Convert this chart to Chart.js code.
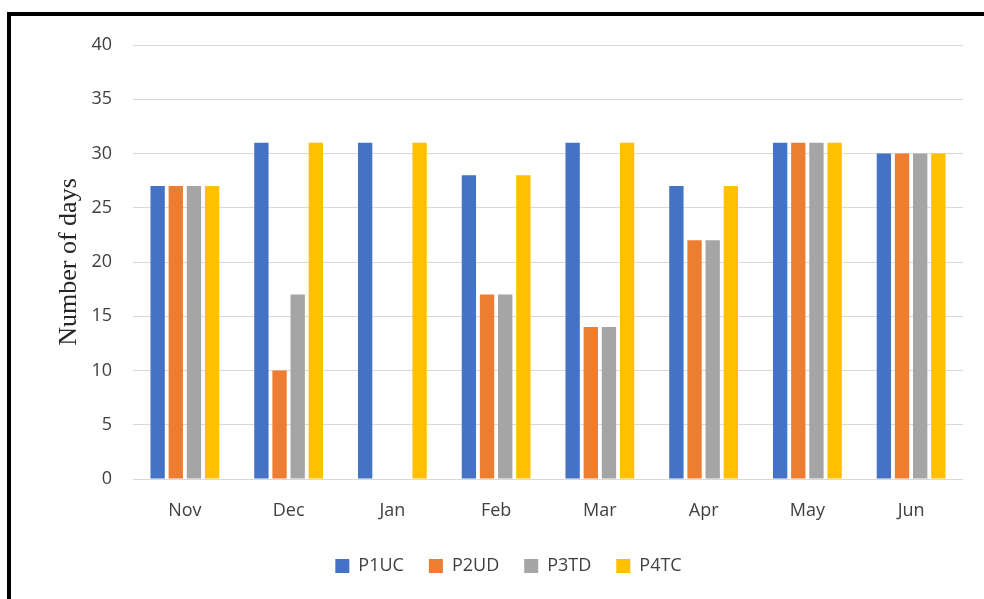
<!DOCTYPE html>
<html>
<head>
<meta charset="utf-8">
<script src="https://cdn.jsdelivr.net/npm/chart.js@4"></script>
<style>
  html, body { margin: 0; padding: 0; background: #fff; overflow: hidden; }
  #wrap { position: relative; width: 984px; height: 599px; }
  #frame {
    position: absolute; left: 7px; top: 12px; width: 1000px; height: 620px;
    border: 4px solid #000; box-sizing: border-box; pointer-events: none;
  }
  canvas { position: absolute; left: 0; top: 0; }
</style>
</head>
<body>
<div id="wrap">
  <canvas id="daysChart" width="984" height="599"></canvas>
  <div id="frame"></div>
</div>
<script>
const months = ["Nov", "Dec", "Jan", "Feb", "Mar", "Apr", "May", "Jun"];
const p1uc = [27, 31, 31, 28, 31, 27, 31, 30];
const p2ud = [27, 10, 0, 17, 14, 22, 31, 30];
const p3td = [27, 17, 0, 17, 14, 22, 31, 30];
const p4tc = [27, 31, 31, 28, 31, 27, 31, 30];

const sans = "'Open Sans', 'DejaVu Sans', sans-serif";

function series(label, data, color) {
    return {
        label: label,
        data: data,
        backgroundColor: color,
        borderWidth: 0,
        categoryPercentage: 0.7,
        barPercentage: 0.79
    };
}

const ctx = document.getElementById("daysChart");

new Chart(ctx, {
    type: "bar",
    data: {
        labels: months,
        datasets: [
            series("P1UC", p1uc, "#4472C4"),
            series("P2UD", p2ud, "#ED7D31"),
            series("P3TD", p3td, "#A5A5A5"),
            series("P4TC", p4tc, "#FFC000")
        ]
    },
    options: {
        responsive: false,
        animation: false,
        layout: { padding: { left: 54, right: 21, top: 45, bottom: 14 } },
        plugins: {
            tooltip: { enabled: false },
            legend: {
                position: "bottom",
                labels: {
                    boxWidth: 14,
                    boxHeight: 14,
                    padding: 25,
                    color: "#404040",
                    font: { family: sans, size: 18 }
                }
            }
        },
        scales: {
            x: {
                grid: { display: false },
                border: { display: false },
                ticks: {
                    color: "#404040",
                    padding: 13,
                    font: { family: sans, size: 18 }
                },
                afterFit(scale) { scale.height = 53; }
            },
            y: {
                min: 0,
                max: 40,
                ticks: {
                    stepSize: 5,
                    color: "#404040",
                    padding: 21,
                    font: { family: sans, size: 18 }
                },
                grid: { color: "#d9d9d9", drawTicks: false },
                border: { display: false },
                title: {
                    display: true,
                    text: "Number of days",
                    color: "#262626",
                    padding: { top: 0, bottom: 0 },
                    font: { family: "'Liberation Serif', serif", size: 26 }
                },
                afterFit(scale) { scale.width = 79; }
            }
        }
    }
});
</script>
</body>
</html>
